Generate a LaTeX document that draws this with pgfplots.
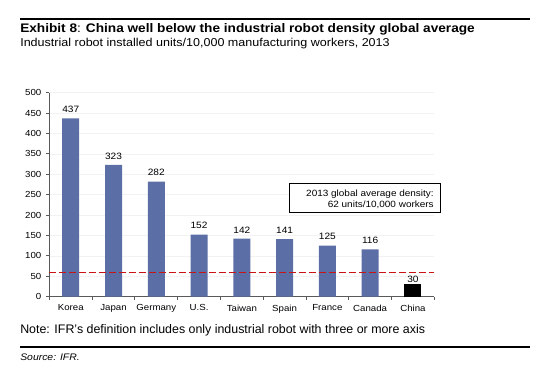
\documentclass[border=0pt]{standalone}
\usepackage{fontspec}
\setmainfont{Liberation Sans}
\newfontfamily\wide{Liberation Sans}[FakeStretch=1.1]
\usepackage{pgfplots}
\pgfplotsset{compat=1.18}
\definecolor{barblue}{RGB}{91,111,166}
\definecolor{avgred}{RGB}{200,20,20}
\begin{document}
\begin{tikzpicture}[x=0.75pt,y=-0.75pt]
\useasboundingbox (0,0) rectangle (542,374);
\draw[line width=1.3pt] (20,19) -- (530,19);
\node[anchor=base west, inner sep=0, font=\wide\fontsize{9.3}{11}\selectfont] at (20,33) {\textbf{Exhibit 8}: \textbf{China well below the industrial robot density global average}};
\node[anchor=base west, inner sep=0, font=\wide\fontsize{8.55}{10}\selectfont] at (20,47) {Industrial robot installed units/10,000 manufacturing workers, 2013};
\begin{axis}[
  at={(37pt,-222.5pt)}, anchor=south west,
  scale only axis, width=288.75pt, height=153pt,
  xmin=-0.5, xmax=8.5, ymin=0, ymax=500,
  ytick={0,50,...,500},
  xtick={-0.5,0.5,...,8.5},
  x tick label as interval,
  xticklabels={Korea,Japan,Germany,U.S.,Taiwan,Spain,France,Canada,China},
  axis x line*=bottom, axis y line*=left,
  axis line style={gray!70!black, line width=0.9pt},
  tick style={gray!70!black, line width=0.6pt},
  tick align=outside, major tick length=2.5pt,
  ymajorgrids, grid style={gray!10, line width=0.4pt},
  ticklabel style={font=\wide\fontsize{6.6}{7}\selectfont},
  /pgf/number format/assume math mode=true,
  nodes near coords style={font=\wide\fontsize{6.9}{7}\selectfont, black, inner sep=0pt},
  clip=false,
]
\addplot[ybar, bar shift=0pt, bar width=12.75pt, fill=barblue, draw=none, nodes near coords,
  every node near coord/.append style={yshift=4pt}]
  coordinates {(0,437) (1,323) (2,282) (3,152) (4,142) (5,141) (6,125) (7,116)};
\addplot[ybar, bar shift=0pt, bar width=12.75pt, fill=black, draw=none, nodes near coords,
  every node near coord/.append style={yshift=1.5pt}]
  coordinates {(8,30)};
\addplot[avgred, line width=0.9pt, dash pattern=on 5pt off 2.5pt, mark=none]
  coordinates {(-0.5,60) (8.5,60)};
\end{axis}
\draw[line width=0.7pt, fill=white] (289,183) rectangle (440,212);
\node[anchor=base east, inner sep=0, font=\wide\fontsize{6.8}{7}\selectfont] at (434,196) {2013 global average density:};
\node[anchor=base east, inner sep=0, font=\wide\fontsize{6.8}{7}\selectfont] at (434,207) {62 units/10,000 workers};
\node[anchor=base west, inner sep=0, font=\fontsize{9.3}{11}\selectfont] at (20,333) {Note: IFR’s definition includes only industrial robot with three or more axis};
\draw[line width=1.3pt] (20,347) -- (530,347);
\node[anchor=base west, inner sep=0, font=\wide\fontsize{7.1}{9}\selectfont\itshape] at (20,360) {Source: IFR.};
\end{tikzpicture}
\end{document}
